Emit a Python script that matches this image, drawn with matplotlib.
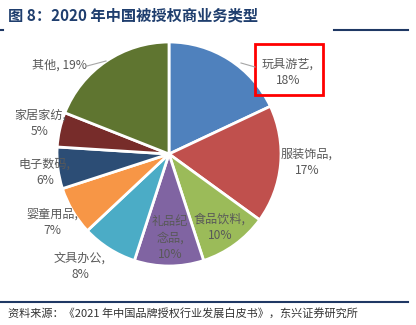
import matplotlib
matplotlib.use("Agg")
import matplotlib.pyplot as plt
from matplotlib.patches import Rectangle
from matplotlib.lines import Line2D

plt.rcParams['font.family'] = ['Noto Sans CJK SC', 'DejaVu Sans']

categories = ["玩具游艺", "服装饰品", "食品饮料", "礼品纪念品", "文具办公",
              "婴童用品", "电子数码", "家居家纺", "其他"]
values = [18, 17, 10, 10, 8, 7, 6, 5, 19]
label_texts = ["玩具游艺,\n18%", "服装饰品,\n17%", "食品饮料,\n10%", "礼品纪\n念品,\n10%",
               "文具办公,\n8%", "婴童用品,\n7%", "电子数码,\n6%", "家居家纺,\n5%", "其他, 19%"]
colors = ["#4F81BD", "#C0504D", "#9BBB59", "#8064A2", "#4BACC6",
          "#F79646", "#2C4D75", "#772C2A", "#5F7530"]

W, H = 416, 325
fig = plt.figure(figsize=(W / 100, H / 100), dpi=100)

def fx(px):
    return px / W

def fy(py):
    return 1 - py / H

# pie axes: center and radius in px
cx, cy, r = 169, 154, 112
ax = fig.add_axes([fx(cx - r), fy(cy + r), 2 * r / W, 2 * r / H])
ax.pie(values, colors=colors, startangle=90, counterclock=False, radius=1,
       wedgeprops=dict(edgecolor="white", linewidth=2))
ax.set_xlim(-1, 1)
ax.set_ylim(-1, 1)
ax.axis("off")

# label positions in pixels (center)
label_pos = [(288, 72), (307, 162), (220, 227), (170, 238), (80, 266),
             (52, 222), (45, 172), (40, 123), (60, 65)]
for txt, (px, py) in zip(label_texts, label_pos):
    fig.text(fx(px), fy(py), txt, ha="center", va="center", fontsize=8.7,
             color="#595959", linespacing=1.35)

# leader lines
fig.add_artist(Line2D([fx(87), fx(106)], [fy(66), fy(61)], color="#A6A6A6", lw=0.8))
fig.add_artist(Line2D([fx(241), fx(255)], [fy(63), fy(67)], color="#A6A6A6", lw=0.8))

# red highlight box
fig.add_artist(Rectangle((fx(255), fy(95)), (323 - 255) / W, (95 - 44) / H,
                         fill=False, edgecolor="#FF0000", lw=2))

# title
fig.text(fx(8), fy(15), "图 8：2020 年中国被授权商业务类型", ha="left", va="center",
         fontsize=11, fontweight="bold", color="#1F3E6E")
navy = "#1F3864"
fig.add_artist(Line2D([fx(0), fx(3)], [fy(29.5), fy(29.5)], color=navy, lw=1.5))
fig.add_artist(Line2D([fx(334), fx(408)], [fy(29.5), fy(29.5)], color=navy, lw=1.5))

# bottom rule and source
fig.add_artist(Line2D([fx(0), fx(408)], [fy(302), fy(302)], color=navy, lw=1.5))
fig.text(fx(8), fy(313), "资料来源：《2021 年中国品牌授权行业发展白皮书》，东兴证券研究所",
         ha="left", va="center", fontsize=8, color="#333333", style="italic")

fig.savefig("out.png", dpi=100)
